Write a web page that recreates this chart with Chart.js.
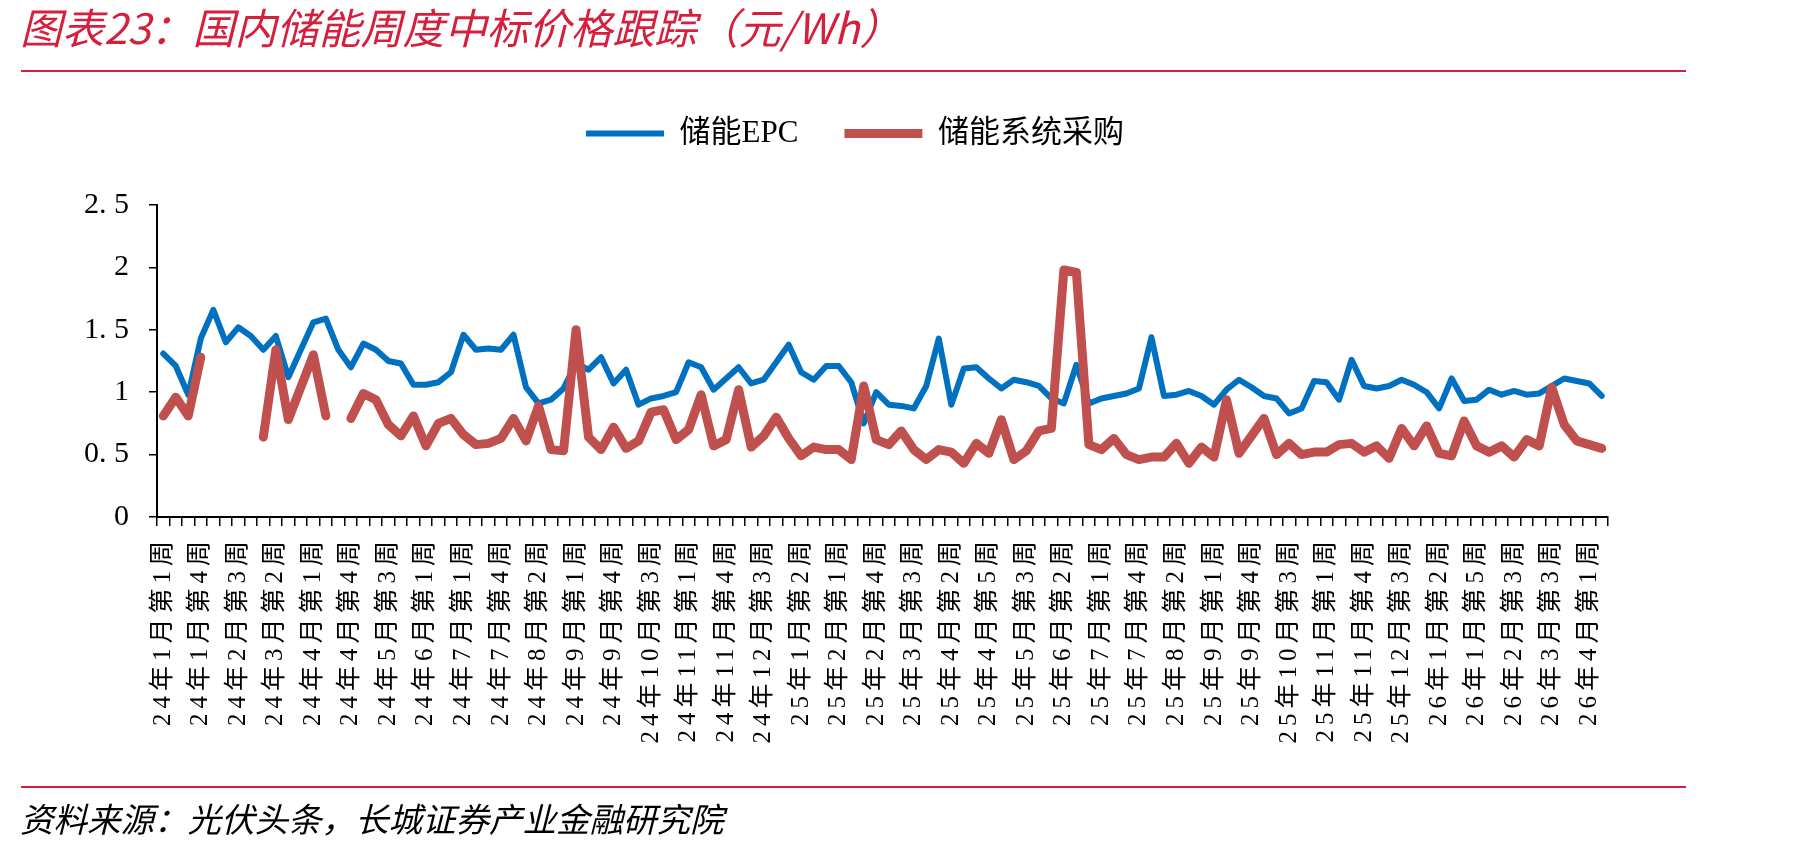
<!DOCTYPE html>
<html>
<head>
<meta charset="utf-8">
<script src="https://cdn.jsdelivr.net/npm/chart.js@4.4.1/dist/chart.umd.min.js"></script>
<style>
    html, body { margin: 0; padding: 0; background: #fff; }
    #wrap { position: relative; width: 1807px; height: 851px; overflow: hidden; }
    #chart { position: absolute; left: 0; top: 0; }
    .rule { position: absolute; left: 21px; width: 1665px; height: 2px; background: #d61f3c; }
    #title { position: absolute; left: 20px; top: 5px; font: italic 42px/42px "Noto Sans CJK SC"; color: #d61f3c; white-space: nowrap; }
    #source { position: absolute; left: 20px; top: 801px; font: italic 33.5px/34px "Noto Sans CJK SC"; color: #000; white-space: nowrap; }
</style>
</head>
<body>
<div id="wrap">
    <canvas id="chart" width="1807" height="851"></canvas>
    <div id="title">图表23：国内储能周度中标价格跟踪（元/Wh）</div>
    <div class="rule" style="top:70px"></div>
    <div class="rule" style="top:786px"></div>
    <div id="source">资料来源：光伏头条，长城证券产业金融研究院</div>
</div>
<script>
// weekly categories, only every third one is printed under the axis
var weeks = [
    '24年1月第1周', '24年1月第2周', '24年1月第3周', '24年1月第4周', '24年2月第1周', '24年2月第2周',
    '24年2月第3周', '24年2月第4周', '24年3月第1周', '24年3月第2周', '24年3月第3周', '24年3月第4周',
    '24年4月第1周', '24年4月第2周', '24年4月第3周', '24年4月第4周', '24年5月第1周', '24年5月第2周',
    '24年5月第3周', '24年5月第4周', '24年5月第5周', '24年6月第1周', '24年6月第3周', '24年6月第4周',
    '24年7月第1周', '24年7月第2周', '24年7月第3周', '24年7月第4周', '24年7月第5周', '24年8月第1周',
    '24年8月第2周', '24年8月第3周', '24年8月第4周', '24年9月第1周', '24年9月第2周', '24年9月第3周',
    '24年9月第4周', '24年10月第1周', '24年10月第2周', '24年10月第3周', '24年10月第4周', '24年10月第5周',
    '24年11月第1周', '24年11月第2周', '24年11月第3周', '24年11月第4周', '24年12月第1周', '24年12月第2周',
    '24年12月第3周', '24年12月第4周', '25年1月第1周', '25年1月第2周', '25年1月第3周', '25年1月第4周',
    '25年2月第1周', '25年2月第2周', '25年2月第3周', '25年2月第4周', '25年3月第1周', '25年3月第2周',
    '25年3月第3周', '25年3月第4周', '25年4月第1周', '25年4月第2周', '25年4月第3周', '25年4月第4周',
    '25年4月第5周', '25年5月第1周', '25年5月第2周', '25年5月第3周', '25年5月第4周', '25年6月第1周',
    '25年6月第2周', '25年6月第3周', '25年6月第4周', '25年7月第1周', '25年7月第2周', '25年7月第3周',
    '25年7月第4周', '25年7月第5周', '25年8月第1周', '25年8月第2周', '25年8月第3周', '25年8月第4周',
    '25年9月第1周', '25年9月第2周', '25年9月第3周', '25年9月第4周', '25年10月第1周', '25年10月第2周',
    '25年10月第3周', '25年10月第4周', '25年10月第5周', '25年11月第1周', '25年11月第2周', '25年11月第3周',
    '25年11月第4周', '25年12月第1周', '25年12月第2周', '25年12月第3周', '25年12月第4周', '26年1月第1周',
    '26年1月第2周', '26年1月第3周', '26年1月第4周', '26年1月第5周', '26年2月第1周', '26年2月第2周',
    '26年2月第3周', '26年3月第1周', '26年3月第2周', '26年3月第3周', '26年3月第4周', '26年3月第5周',
    '26年4月第1周', '26年4月第2周'
];

var epcPrice = [
    1.31, 1.21, 0.98, 1.43, 1.66, 1.40, 1.52, 1.45, 1.34, 1.45,
    1.12, 1.34, 1.56, 1.59, 1.34, 1.20, 1.39, 1.34, 1.25, 1.23,
    1.06, 1.06, 1.08, 1.16, 1.46, 1.34, 1.35, 1.34, 1.46, 1.04,
    0.91, 0.94, 1.03, 1.23, 1.18, 1.28, 1.07, 1.18, 0.90, 0.95,
    0.97, 1.00, 1.24, 1.20, 1.02, 1.11, 1.20, 1.07, 1.10, 1.24,
    1.38, 1.16, 1.10, 1.21, 1.21, 1.08, 0.75, 1.00, 0.90, 0.89,
    0.87, 1.05, 1.43, 0.90, 1.19, 1.20, 1.11, 1.03, 1.10, 1.08,
    1.05, 0.95, 0.91, 1.22, 0.91, 0.95, 0.97, 0.99, 1.03, 1.44,
    0.97, 0.98, 1.01, 0.97, 0.90, 1.02, 1.10, 1.04, 0.97, 0.95,
    0.83, 0.87, 1.09, 1.08, 0.94, 1.26, 1.05, 1.03, 1.05, 1.10,
    1.06, 1.00, 0.87, 1.11, 0.93, 0.94, 1.02, 0.98, 1.01, 0.98,
    0.99, 1.05, 1.11, 1.09, 1.07, 0.97
];

var systemPrice = [
    0.81, 0.96, 0.81, 1.28, null, null, null, null, 0.64, 1.34,
    0.78, 1.04, 1.30, 0.81, null, 0.79, 0.99, 0.94, 0.74, 0.65,
    0.81, 0.57, 0.75, 0.79, 0.66, 0.58, 0.59, 0.63, 0.79, 0.61,
    0.89, 0.54, 0.53, 1.50, 0.64, 0.54, 0.72, 0.55, 0.61, 0.84,
    0.86, 0.62, 0.70, 0.98, 0.57, 0.62, 1.02, 0.56, 0.65, 0.80,
    0.63, 0.49, 0.56, 0.54, 0.54, 0.46, 1.05, 0.62, 0.58, 0.69,
    0.54, 0.46, 0.54, 0.52, 0.43, 0.59, 0.51, 0.78, 0.46, 0.53,
    0.69, 0.71, 1.98, 1.96, 0.58, 0.54, 0.63, 0.50, 0.46, 0.48,
    0.48, 0.59, 0.43, 0.56, 0.48, 0.94, 0.51, 0.65, 0.79, 0.50,
    0.59, 0.50, 0.52, 0.52, 0.58, 0.59, 0.52, 0.57, 0.47, 0.71,
    0.57, 0.73, 0.51, 0.49, 0.77, 0.57, 0.52, 0.57, 0.48, 0.62,
    0.57, 1.04, 0.74, 0.61, 0.58, 0.55
];

var fontFamily = "'Liberation Serif', 'Noto Sans CJK SC'";

// legend: extra room below it, and a small nudge to the right
var legendTweak = {
    id: 'legendTweak',
    beforeInit: function (chart) {
        var fit = chart.legend.fit;
        chart.legend.fit = function () {
            fit.call(this);
            this.height += 46;
        };
    },
    afterLayout: function (chart) {
        chart.legend.left += 10;
        chart.legend.right += 10;
    }
};

// x labels are drawn after the lines (ticks.z = 1); spread their characters out
var labelSpacing = {
    id: 'labelSpacing',
    afterDatasetsDraw: function (chart) {
        chart.ctx.letterSpacing = '5px';
    },
    afterDraw: function (chart) {
        chart.ctx.letterSpacing = '0px';
    }
};

var ctx = document.getElementById('chart').getContext('2d');
var chart = new Chart(ctx, {
    type: 'line',
    data: {
        labels: weeks,
        datasets: [
            {
                label: '储能EPC',
                data: epcPrice,
                borderColor: '#0070c0',
                backgroundColor: '#0070c0',
                borderWidth: 6,
                order: 1
            },
            {
                label: '储能系统采购',
                data: systemPrice,
                borderColor: '#c0504d',
                backgroundColor: '#c0504d',
                borderWidth: 9,
                order: 0
            }
        ]
    },
    options: {
        responsive: false,
        animation: false,
        devicePixelRatio: 1,
        spanGaps: false,
        layout: { padding: { left: 82, right: 199, top: 72, bottom: 0 } },
        elements: {
            point: { radius: 0, hoverRadius: 0 },
            line: { tension: 0, borderCapStyle: 'round', borderJoinStyle: 'round' }
        },
        plugins: {
            tooltip: { enabled: false },
            legend: {
                position: 'top',
                align: 'center',
                labels: {
                    usePointStyle: true,
                    pointStyle: 'line',
                    pointStyleWidth: 78,
                    padding: 46,
                    color: '#000',
                    font: { family: fontFamily, size: 31 },
                    sort: function (a, b) { return a.datasetIndex - b.datasetIndex; }
                }
            }
        },
        scales: {
            x: {
                offset: true,
                grid: { offset: true, drawOnChartArea: false, tickLength: 9, color: '#000', lineWidth: 1.5 },
                border: { color: '#000', width: 2 },
                ticks: {
                    autoSkip: false,
                    minRotation: 90,
                    maxRotation: 90,
                    padding: 10,
                    z: 1,
                    color: '#000',
                    font: { family: fontFamily, size: 25 },
                    callback: function (value, index) {
                        return index % 3 === 0 ? weeks[index] : '';
                    }
                },
                afterFit: function (scale) { scale.height = 334; }
            },
            y: {
                min: 0,
                max: 2.5,
                grid: { drawOnChartArea: false, tickLength: 8, color: '#000', lineWidth: 1.5 },
                border: { color: '#000', width: 2 },
                ticks: {
                    stepSize: 0.5,
                    padding: 20,
                    color: '#000',
                    font: { family: fontFamily, size: 30 },
                    callback: function (value) {
                        return String(value).replace('.', '. ');
                    }
                },
                afterFit: function (scale) { scale.width = 75; }
            }
        }
    },
    plugins: [legendTweak, labelSpacing]
});
</script>
</body>
</html>
